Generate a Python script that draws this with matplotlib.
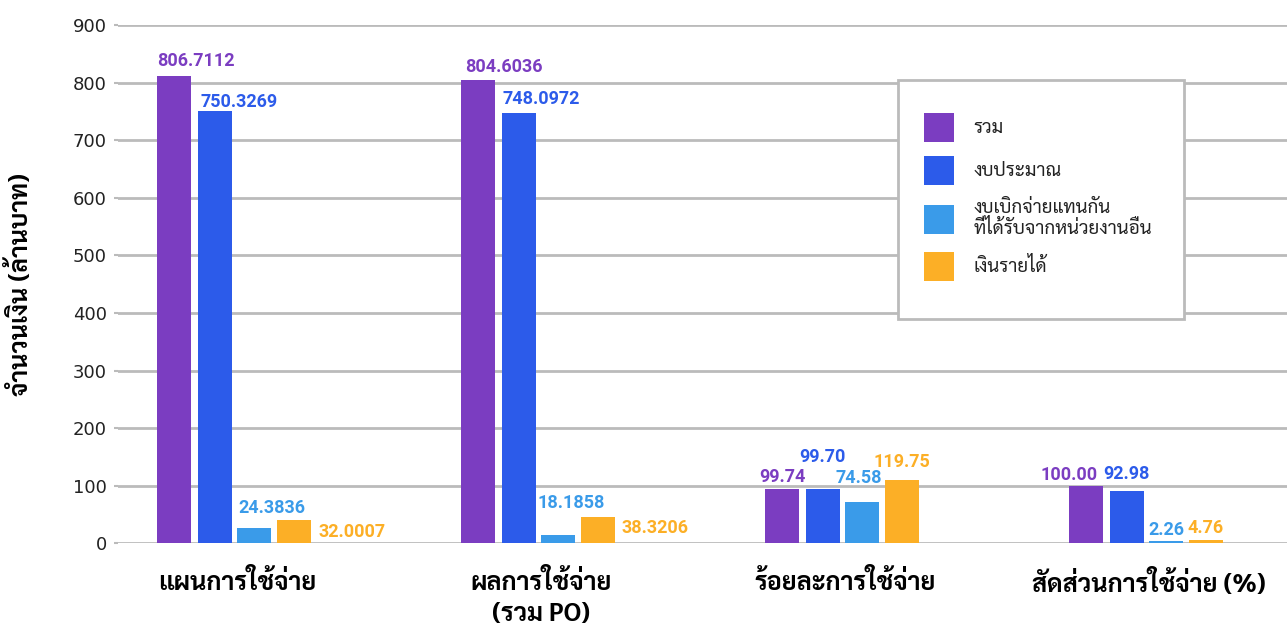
import matplotlib
matplotlib.use("Agg")
import matplotlib.pyplot as plt
from matplotlib import font_manager
from matplotlib.ft2font import FT2Font
from matplotlib.patches import Patch, Rectangle
import matplotlib.patheffects as pe
import numpy as np

# data
categories = ["แผนการใช้จ่าย", "ผลการใช้จ่าย\n(รวม PO)", "ร้อยละการใช้จ่าย", "สัดส่วนการใช้จ่าย (%)"]
series_names = ["รวม", "งบประมาณ", "งบเบิกจ่ายแทนกัน\nที่ได้รับจากหน่วยงานอื่น", "เงินรายได้"]

# bar heights as drawn
total = [811.6, 804.6, 94.3, 99.5]
budget = [750.8, 747.3, 94.3, 90.8]
transfer = [27.0, 14.4, 72.3, 4.5]
income = [40.5, 45.7, 110.0, 5.7]

# printed value labels
total_lbl = ["806.7112", "804.6036", "99.74", "100.00"]
budget_lbl = ["750.3269", "748.0972", "99.70", "92.98"]
transfer_lbl = ["24.3836", "18.1858", "74.58", "2.26"]
income_lbl = ["32.0007", "38.3206", "119.75", "4.76"]

yticks = [0, 100, 200, 300, 400, 500, 600, 700, 800, 900]

colors = ["#7B3DC1", "#2C5BEA", "#3A9BE9", "#FCAF26"]

# where each value label sits (pixels): top = above bar, right = beside bar
label_pos = [
    [("top", 22, 10), ("top", 26, 8), ("top", 0, 7), ("top", -17, 6)],
    [("top", 24, 4), ("top", 22, 9), ("top", 0, 27), ("top", 0, 12)],
    [("top", 18, 15), ("top", 13, 27), ("top", -3, 19), ("top", 0, 6)],
    [("right", 7, 0), ("right", 6, 2), ("top", 0, 13), ("top", -1, 7)],
]


def find_thai_font():
    # returns (family name, has bold weight)
    found = {}
    for f in font_manager.fontManager.ttflist:
        try:
            cmap = FT2Font(f.fname).get_charmap()
        except Exception:
            continue
        if 0x0E01 in cmap:
            w = f.weight if isinstance(f.weight, int) else 400
            found.setdefault(f.name, []).append(w)
    if not found:
        return None, False
    prefer = ["Noto Sans Thai", "Noto Sans Thai Looped", "Sarabun", "Loma", "Garuda"]
    with_bold = [n for n in found if max(found[n]) >= 600]
    for p in prefer:
        if p in with_bold:
            return p, True
    if with_bold:
        return with_bold[0], True
    for p in prefer:
        if p in found:
            return p, False
    return list(found)[0], False


thai, thai_bold = find_thai_font()
fams = [thai, "DejaVu Sans"] if thai else ["DejaVu Sans"]
plt.rcParams["font.family"] = fams


def heavy(c, lw=1.1):
    # fake a bolder stroke when the Thai font has no bold face
    if thai_bold:
        return []
    return [pe.withStroke(linewidth=lw, foreground=c)]


W, H = 1287, 626
fig = plt.figure(figsize=(W / 100, H / 100), dpi=100)
ax = fig.add_axes([118 / W, 82.7 / H, 1 - 118 / W, 518.2 / H])

x = np.arange(len(categories))
w = 0.112
step = 0.129
offsets = [-1.5 * step - 0.005, -0.5 * step, 0.5 * step, 1.5 * step + 0.003]
all_vals = [total, budget, transfer, income]
all_lbls = [total_lbl, budget_lbl, transfer_lbl, income_lbl]

for s in range(4):
    bars = ax.bar(x + offsets[s] - 0.008, all_vals[s], width=w, color=colors[s], zorder=3,
                  label=series_names[s])
    for g, b in enumerate(bars):
        kind, dx, dy = label_pos[s][g]
        h = b.get_height()
        if kind == "top":
            xy = (b.get_x() + b.get_width() / 2, h)
            ha, va = "center", "baseline"
        else:
            xy = (b.get_x() + b.get_width(), h / 2)
            ha, va = "left", "center"
        ax.annotate(all_lbls[s][g], xy=xy, xytext=(dx, dy), textcoords="offset pixels",
                    ha=ha, va=va, color=colors[s], fontsize=13, fontweight="bold",
                    family=["Roboto", "DejaVu Sans"], zorder=4)

ax.set_xlim(-0.391, 3.454)
ax.set_ylim(0, 900)
ax.set_yticks(yticks)
ax.set_yticklabels([str(t) for t in yticks], family=["DejaVu Sans"], fontsize=13,
                   color="#222222")
ax.set_xticks(x)
ax.set_xticklabels(categories, fontsize=18.2, fontweight="bold", linespacing=1.4)
for t in ax.get_xticklabels():
    t.set_path_effects(heavy("black", 1.3))
ax.tick_params(axis="x", length=0, pad=19)
ax.tick_params(axis="y", length=3, width=1.5, color="#bbbbbb", pad=5)
ax.grid(axis="y", color="#bbbbbb", linewidth=2, zorder=0)
for sp in ax.spines.values():
    sp.set_visible(False)

yl = ax.set_ylabel("จำนวนเงิน (ล้านบาท)", fontsize=18, fontweight="bold")
yl.set_path_effects(heavy("black", 1.3))
ax.yaxis.set_label_coords(-0.072, 0.5)

# legend box (white panel with grey border) and entries
box = Rectangle((898 / W, 1 - 319 / H), 286 / W, 239 / H, transform=fig.transFigure,
                facecolor="white", edgecolor="#bbbbbb", linewidth=2, zorder=5, clip_on=False)
ax.add_patch(box)
handles = [Patch(facecolor=c, edgecolor="none") for c in colors]
leg = ax.legend(handles, series_names, loc="upper left",
                bbox_to_anchor=(924 / W, 1 - 113 / H), bbox_transform=fig.transFigure,
                borderaxespad=0, fontsize=13.5, frameon=False,
                handlelength=1.58, handleheight=2.0, labelspacing=0.75, borderpad=0,
                handletextpad=1.05)
leg.set_zorder(6)
for t in leg.get_texts():
    t.set_color("#222222")
    t.set_linespacing(1.1)

fig.savefig("out.png", dpi=100)
